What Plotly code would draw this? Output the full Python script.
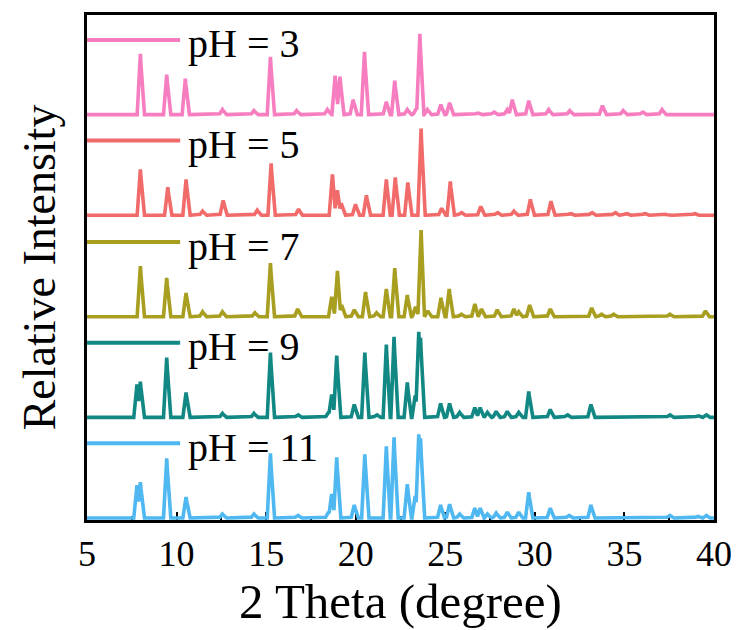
import numpy as np
import plotly.graph_objects as go

labels = ["pH = 3", "pH = 5", "pH = 7", "pH = 9", "pH = 11"]
colors = ["#F67EC0", "#F26B6B", "#A89E20", "#128884", "#4FB8F0"]
offsets = [407, 306, 204, 103, 2]

ph3_pos = [7.98, 9.45, 10.49, 12.56, 14.32, 15.24, 16.70, 18.42, 18.85, 19.12, 19.86, 20.49, 21.71, 22.18,
           22.88, 23.38, 23.58, 24.00, 24.75, 25.24, 26.80, 27.70, 28.46, 28.74, 29.66, 30.77, 31.95, 33.77,
           34.93, 36.00, 37.10]
ph3_h = [61, 40, 36, 5, 4, 58, 4, 5, 39, 38, 15, 63, 13, 34, 5, 6, 81, 5, 10, 12, 2, 3, 5, 15, 14, 5, 4, 9, 4, 3, 5]

ph5_pos = [7.98, 9.51, 10.53, 11.45, 12.60, 14.50, 15.28, 16.81, 18.70, 18.98, 19.20, 19.99, 20.60, 21.71,
           22.21, 22.91, 23.65, 24.80, 25.28, 25.88, 26.98, 27.90, 28.83, 29.75, 30.90, 31.97, 33.17, 34.47,
           35.10, 36.13, 37.30, 38.90]
ph5_h = [46, 28, 36, 4, 15, 5, 52, 6, 41, 25, 12, 11, 20, 36, 38, 33, 87, 7, 34, 3, 9, 3, 4, 16, 14, 2, 3, 3,
         2, 2, 1, 2]

ph7_pos = [7.98, 9.45, 10.53, 11.45, 12.56, 14.37, 15.24, 16.76, 18.66, 18.98, 19.22, 19.92, 20.55, 21.16,
           21.71, 22.18, 22.88, 23.34, 23.65, 24.02, 24.76, 25.22, 25.88, 26.65, 27.02, 27.90, 28.83, 29.10,
           29.71, 30.86, 33.17, 33.70, 34.38, 37.52, 39.52]
ph7_h = [51, 39, 24, 5, 5, 4, 54, 8, 20, 46, 12, 7, 25, 4, 28, 49, 22, 10, 87, 6, 19, 28, 3, 13, 8, 7, 8, 5,
         12, 8, 9, 3, 3, 3, 6]

ph9_pos = [7.79, 7.98, 9.45, 10.53, 12.56, 14.32, 15.24, 16.76, 18.48, 18.66, 18.94, 19.92, 20.51, 21.16,
           21.71, 22.14, 22.88, 23.32, 23.52, 23.62, 24.74, 25.24, 25.80, 26.65, 26.95, 27.35, 27.84, 28.46,
           29.10, 29.66, 30.86, 31.80, 33.13, 37.52, 39.10, 39.55]
ph9_h = [33, 36, 60, 25, 4, 4, 65, 3, 5, 23, 62, 13, 65, 3, 73, 81, 35, 22, 86, 80, 14, 14, 5, 10, 10, 5, 6,
         6, 5, 26, 8, 3, 13, 3, 2, 3]

ph11_pos = [7.79, 7.98, 9.45, 10.53, 12.56, 14.32, 15.24, 16.76, 18.48, 18.66, 18.94, 19.92, 20.51, 21.71,
            22.14, 22.88, 23.32, 23.52, 23.62, 24.74, 25.24, 25.80, 26.65, 26.95, 27.35, 27.84, 28.46, 29.10,
            29.66, 30.86, 31.90, 33.13, 37.52, 39.10, 39.55]
ph11_h = [33, 36, 60, 21, 4, 4, 65, 3, 6, 24, 61, 13, 64, 72, 81, 34, 22, 84, 80, 13, 14, 4, 10, 10, 4, 5, 6,
          6, 26, 10, 3, 13, 3, 2, 3]

x_ticks = [5, 10, 15, 20, 25, 30, 35, 40]

peaks = [(ph3_pos, ph3_h), (ph5_pos, ph5_h), (ph7_pos, ph7_h), (ph9_pos, ph9_h), (ph11_pos, ph11_h)]

grid = np.round(np.arange(5.0, 40.0001, 0.01), 3)
half_w = 0.18

fig = go.Figure()
for (pos, hts), lab, col, off in zip(peaks, labels, colors, offsets):
    y = np.zeros_like(grid)
    for p, h in zip(pos, hts):
        tri = h * np.clip(1 - np.abs(grid - p) / half_w, 0, None)
        y = np.maximum(y, tri)
    fig.add_trace(go.Scatter(x=grid, y=y + off, mode="lines", name=lab,
                             line=dict(color=col, width=3.6), showlegend=False, hoverinfo="skip"))
    # legend key line + label
    fig.add_shape(type="line", x0=5, x1=10.2, y0=off + 75, y1=off + 75, xref="x", yref="y",
                  line=dict(color=col, width=4))
    fig.add_annotation(x=10.55, y=off + 71, xref="x", yref="y", text=lab, showarrow=False,
                       xanchor="left", yanchor="middle",
                       font=dict(family="Liberation Serif", size=40, color="black"))

fig.update_layout(
    width=744, height=630,
    margin=dict(l=87, r=26, t=13, b=110),
    paper_bgcolor="white", plot_bgcolor="white",
    font=dict(family="Liberation Serif", color="black"),
    showlegend=False,
)
fig.update_xaxes(range=[5, 40], tickvals=x_ticks, ticktext=[str(v) for v in x_ticks],
                 ticks="inside", ticklen=8, tickwidth=2, tickcolor="black",
                 minor=dict(dtick=2.5, tick0=5, ticks="inside", ticklen=4, tickwidth=2, tickcolor="black"),
                 showline=True, linewidth=3, linecolor="black", mirror=True,
                 showgrid=False, zeroline=False, layer="below traces",
                 tickfont=dict(family="Liberation Serif", size=36),
                 title=dict(text="2 Theta (degree)", font=dict(family="Liberation Serif", size=49), standoff=8))
fig.update_yaxes(range=[0, 507], showticklabels=False, ticks="",
                 showline=True, linewidth=3, linecolor="black", mirror=True,
                 showgrid=False, zeroline=False,
                 title=dict(text="Relative Intensity", font=dict(family="Liberation Serif", size=46), standoff=14))

fig.write_html("out.html")
